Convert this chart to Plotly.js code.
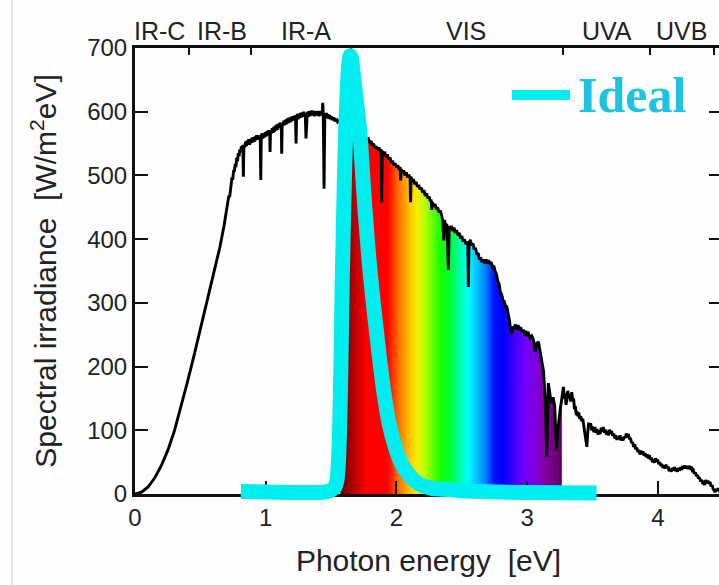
<!DOCTYPE html>
<html>
<head>
<meta charset="utf-8">
<script src="https://cdn.plot.ly/plotly-3.0.1.min.js"></script>
<style>
  html, body { margin: 0; padding: 0; background: #fdfdfd; overflow: hidden; }
  #chart { width: 725px; height: 585px; }
</style>
</head>
<body>
<div id="chart"></div>
<script>
// Solar spectral irradiance versus photon energy (eV, W/m^2 eV)
const energyEV = [
  0, 0.05, 0.10, 0.15, 0.20, 0.25, 0.30, 0.35, 0.40, 0.45,
  0.50, 0.55, 0.60, 0.65, 0.68,
  0.700, 0.706, 0.712, 0.718, 0.724, 0.730, 0.736, 0.742, 0.748, 0.754,
  0.760, 0.766, 0.772, 0.778, 0.784, 0.790, 0.796, 0.802, 0.808, 0.814,
  0.820, 0.825, 0.829, 0.833, 0.840, 0.846, 0.852, 0.858, 0.864, 0.870,
  0.876, 0.882, 0.888, 0.894, 0.900, 0.906, 0.912, 0.918, 0.924, 0.930,
  0.936, 0.942, 0.948, 0.954, 0.958, 0.962, 0.966, 0.972, 0.978, 0.984,
  0.990, 0.996, 1.002, 1.008, 1.014, 1.020, 1.026, 1.030, 1.033, 1.037,
  1.044, 1.050, 1.056, 1.062, 1.068, 1.074, 1.080, 1.086, 1.092, 1.098,
  1.104, 1.110, 1.116, 1.119, 1.122, 1.126, 1.132, 1.138, 1.144, 1.150,
  1.156, 1.162, 1.168, 1.174, 1.180, 1.186, 1.192, 1.198, 1.204, 1.210,
  1.216, 1.222, 1.228, 1.232, 1.236, 1.242, 1.248, 1.254, 1.260, 1.266,
  1.272, 1.278, 1.284, 1.290, 1.296, 1.302, 1.308, 1.312, 1.318, 1.324,
  1.330, 1.336, 1.342, 1.348, 1.354, 1.360, 1.366, 1.372, 1.378, 1.384,
  1.390, 1.396, 1.402, 1.408, 1.414, 1.420, 1.426, 1.432, 1.436, 1.440,
  1.446, 1.452, 1.458, 1.464, 1.470, 1.476, 1.482, 1.488, 1.494, 1.500,
  1.510, 1.520, 1.530, 1.540, 1.550, 1.560, 1.570, 1.59, 1.61, 1.63,
  1.65, 1.67, 1.69, 1.71, 1.73, 1.75, 1.77, 1.785, 1.795, 1.805,
  1.815, 1.825, 1.835, 1.845, 1.855, 1.865, 1.875, 1.883, 1.887, 1.891,
  1.90, 1.91, 1.92, 1.93, 1.94, 1.951, 1.96, 1.97, 1.98, 1.99,
  2.0, 2.01, 2.02, 2.028, 2.032, 2.036, 2.045, 2.055, 2.065, 2.075,
  2.085, 2.095, 2.104, 2.108, 2.112, 2.12, 2.13, 2.14, 2.15, 2.16,
  2.17, 2.18, 2.19, 2.20, 2.21, 2.22, 2.23, 2.24, 2.25, 2.257,
  2.265, 2.27, 2.275, 2.285, 2.295, 2.305, 2.315, 2.325, 2.334, 2.345,
  2.355, 2.362, 2.368, 2.375, 2.385, 2.397, 2.404, 2.412, 2.42, 2.43,
  2.44, 2.45, 2.46, 2.47, 2.48, 2.49, 2.5, 2.51, 2.52, 2.53,
  2.538, 2.546, 2.55, 2.555, 2.565, 2.575, 2.585, 2.595, 2.605, 2.615,
  2.625, 2.635, 2.645, 2.655, 2.665, 2.675, 2.685, 2.695, 2.705, 2.716,
  2.725, 2.735, 2.745, 2.754, 2.765, 2.775, 2.785, 2.793, 2.805, 2.815,
  2.825, 2.835, 2.844, 2.855, 2.865, 2.872, 2.882, 2.892, 2.9, 2.91,
  2.92, 2.93, 2.94, 2.95, 2.96, 2.97, 2.98, 2.99, 3.0, 3.01,
  3.022, 3.035, 3.048, 3.055, 3.06, 3.072, 3.086, 3.095, 3.105, 3.115,
  3.124, 3.131, 3.137, 3.145, 3.15, 3.156, 3.162, 3.175, 3.188, 3.198,
  3.21, 3.218, 3.226, 3.234, 3.244, 3.252, 3.265, 3.272, 3.277, 3.284,
  3.29, 3.297, 3.303, 3.31, 3.318, 3.325, 3.333, 3.341, 3.348, 3.355,
  3.362, 3.368, 3.375, 3.38, 3.387, 3.395, 3.40, 3.41, 3.418, 3.425,
  3.432, 3.44, 3.449, 3.456, 3.463, 3.47, 3.477, 3.485, 3.493, 3.50,
  3.51, 3.518, 3.526, 3.534, 3.542, 3.55, 3.558, 3.566, 3.574, 3.582,
  3.59, 3.598, 3.606, 3.614, 3.622, 3.63, 3.638, 3.646, 3.654, 3.662,
  3.67, 3.678, 3.686, 3.694, 3.702, 3.71, 3.718, 3.726, 3.734, 3.742,
  3.75, 3.758, 3.766, 3.774, 3.782, 3.79, 3.798, 3.806, 3.814, 3.822,
  3.83, 3.838, 3.846, 3.854, 3.862, 3.87, 3.878, 3.886, 3.894, 3.902,
  3.91, 3.918, 3.926, 3.934, 3.942, 3.95, 3.958, 3.966, 3.974, 3.982,
  3.99, 3.998, 4.006, 4.014, 4.022, 4.03, 4.038, 4.046, 4.054, 4.062,
  4.07, 4.078, 4.086, 4.094, 4.102, 4.11, 4.118, 4.126, 4.134, 4.142,
  4.15, 4.158, 4.166, 4.174, 4.182, 4.19, 4.198, 4.206, 4.214, 4.222,
  4.23, 4.238, 4.246, 4.254, 4.262, 4.27, 4.278, 4.286, 4.294, 4.302,
  4.31, 4.318, 4.326, 4.334, 4.342, 4.35, 4.358, 4.366, 4.374, 4.382,
  4.39, 4.398, 4.406, 4.414, 4.422, 4.43, 4.438, 4.446, 4.454, 4.462,
  4.47, 4.48, 4.49
];
const irradiance = [
  0, 3, 11, 25, 44, 68, 98, 135, 175, 216,
  258, 300, 343, 388, 420,
  443, 452, 455, 468, 466, 480, 484, 497, 493, 508,
  506, 518, 513, 528, 522, 535, 530, 541, 536, 546,
  540, 548, 498, 547, 544, 553, 546, 555, 549, 557,
  548, 556, 551, 559, 552, 560, 553, 561, 555, 563,
  556, 562, 558, 563, 559, 493, 561, 566, 558, 565,
  560, 568, 561, 569, 563, 571, 564, 570, 537, 571,
  566, 574, 567, 576, 569, 578, 571, 580, 572, 581,
  575, 583, 576, 581, 534, 582, 578, 586, 579, 587,
  580, 589, 582, 590, 583, 591, 584, 592, 586, 593,
  587, 594, 588, 550, 592, 596, 588, 597, 590, 598,
  591, 599, 592, 600, 592, 598, 558, 597, 600, 592,
  601, 593, 601, 594, 602, 594, 601, 593, 600, 594,
  601, 595, 600, 593, 601, 594, 600, 595, 614, 597,
  479, 598, 592, 598, 590, 596, 589, 595, 588, 593,
  587, 591, 585, 589, 584, 586, 583, 580, 577, 574,
  572, 569, 566, 564, 561, 560, 557, 558, 551, 554,
  547, 550, 543, 546, 540, 544, 538, 541, 458, 538,
  534, 537, 529, 533, 525, 528, 520, 523, 516, 519,
  513, 516, 509, 513, 492, 510, 504, 508, 500, 505,
  497, 501, 496, 458, 498, 491, 494, 486, 490, 482,
  485, 478, 481, 473, 477, 468, 472, 464, 467, 460,
  462, 446, 458, 452, 455, 447, 450, 442, 445, 438,
  428, 398, 430, 420, 424, 352, 421, 415, 421, 413,
  418, 410, 414, 406, 410, 401, 405, 396, 400, 392,
  396, 390, 325, 394, 399, 390, 393, 384, 386, 376,
  378, 368, 371, 364, 368, 362, 368, 362, 367, 361,
  364, 356, 358, 350, 345, 334, 330, 318, 313, 304,
  302, 294, 294, 282, 272, 258, 252, 263, 260, 266,
  258, 265, 257, 262, 254, 258, 249, 256, 250, 252,
  245, 248, 242, 232, 223, 236, 239, 228, 216, 206,
  194, 172, 153, 96, 58, 120, 174, 155, 142, 152,
  138, 100, 69, 100, 122, 132, 150, 165, 168, 150,
  158, 140, 147, 162, 150, 157, 145, 160, 146, 150,
  133, 138, 124, 130, 122, 128, 118, 122, 114, 118,
  108, 100, 86, 74, 96, 112, 104, 111, 100, 106,
  97, 105, 96, 102, 93, 100, 94, 104, 98, 105,
  96, 101, 93, 99, 92, 101, 95, 99, 91, 95,
  87, 92, 85, 90, 86, 92, 84, 89, 84, 90,
  88, 95, 89, 94, 86, 88, 80, 82, 74, 78,
  70, 73, 66, 69, 62, 68, 63, 67, 60, 64,
  58, 62, 56, 61, 54, 57, 50, 54, 49, 56,
  51, 54, 47, 50, 44, 47, 41, 45, 40, 46,
  41, 43, 36, 39, 35, 41, 37, 42, 36, 40,
  35, 41, 37, 42, 38, 44, 40, 45, 40, 44,
  39, 44, 41, 43, 37, 38, 32, 34, 28, 30,
  24, 26, 20, 22, 16, 18, 14, 22, 17, 21,
  16, 19, 12, 14, 8, 6, 3, 8, 5, 9,
  5, 7, 4
];

// "Ideal" emitter spectrum (same units)
const idealEV = [
  0.81, 1.0, 1.2, 1.4, 1.46, 1.50, 1.53, 1.545, 1.555, 1.565, 1.575, 1.585, 1.595, 1.605, 1.615,
  1.625, 1.635, 1.645, 1.655, 1.665, 1.68, 1.70, 1.72, 1.74, 1.76, 1.78, 1.80, 1.82, 1.85, 1.875,
  1.90, 1.925, 1.95, 1.975, 2.0, 2.03, 2.06, 2.10, 2.15, 2.20, 2.25, 2.30, 2.40, 2.50, 2.70,
  3.00, 3.53
];
const idealVal = [
  4, 3, 2.5, 2.5, 3.5, 6, 11, 22, 45, 100, 200, 330, 430, 520, 590,
  640, 675, 688, 684, 668, 640, 605, 568, 505, 445, 392, 345, 305, 250, 205,
  165, 132, 105, 85, 68, 52, 40, 29, 19, 13, 10, 8, 7, 5, 3.5,
  2.5, 1.5
];

// Axis ticks and the spectral bands labelled along the top edge
const xTicks = [0, 1, 2, 3, 4];
const yTicks = [0, 100, 200, 300, 400, 500, 600, 700];
const bandNames = ['IR-C', 'IR-B', 'IR-A', 'VIS', 'UVA', 'UVB'];
const bandLabelEV = [0.19, 0.665, 1.31, 2.53, 3.61, 4.18];
const bandEdgeEV = [0.413, 0.886, 1.653, 3.27, 3.94, 4.43];

// Rainbow under the visible part of the spectrum
const VIS_START = 1.57, VIS_END = 3.265;
const rainbowStops = [
  [1.57, '#680000'], [1.63, '#960000'], [1.70, '#c80000'], [1.75, '#f00000'],
  [1.78, '#ff0000'], [1.93, '#ff0000'], [1.97, '#ff3000'], [2.01, '#ff6800'],
  [2.06, '#ff9c00'], [2.11, '#ffcc00'], [2.16, '#f4f000'], [2.22, '#b4ff00'],
  [2.28, '#60ff00'], [2.34, '#10ff00'], [2.42, '#00ff40'], [2.50, '#00ffc0'],
  [2.55, '#00ffff'], [2.60, '#00d0ff'], [2.68, '#0080ff'], [2.75, '#0010ff'],
  [2.82, '#0000ff'], [2.90, '#4000ff'], [2.98, '#7000ff'], [3.06, '#8000e0'],
  [3.15, '#800098'], [3.265, '#600060']
];

const FONT = '"Liberation Sans", Arial, Helvetica, sans-serif';
const INK = '#222222';
const AXIS = '#111111';
const CYAN = '#00eef0';

const X_RANGE = [0, 4.49];
const Y_RANGE = [0, 700];
// plot area: 48px to 505px from the top; y = 0 sits 11px above its bottom
const Y_DOMAIN_LOW = 11 / 457;
const Y3_RANGE = [-11 * 700 / 446, 700];

const visX = [], visY = [];
energyEV.forEach((e, i) => {
  if (e >= VIS_START && e <= VIS_END) { visX.push(e); visY.push(irradiance[i]); }
});
const span = VIS_END - VIS_START;
const rainbowScale = rainbowStops.map(([e, c]) => [Math.min(1, Math.max(0, (e - VIS_START) / span)), c]);

const traces = [
  {
    type: 'scatter', mode: 'lines', x: visX, y: visY,
    xaxis: 'x', yaxis: 'y',
    line: { width: 0, color: 'rgba(0,0,0,0)' },
    fill: 'tozeroy',
    fillgradient: { type: 'horizontal', start: VIS_START, stop: VIS_END, colorscale: rainbowScale },
    hoverinfo: 'skip', showlegend: false
  },
  {
    type: 'scatter', mode: 'lines', x: energyEV, y: irradiance,
    xaxis: 'x2', yaxis: 'y',
    line: { width: 2.9, color: '#000000' },
    hoverinfo: 'x+y', showlegend: false, name: 'AM1.5'
  },
  {
    type: 'scatter', mode: 'lines', x: idealEV, y: idealVal,
    xaxis: 'x3', yaxis: 'y3',
    line: { width: 15, color: CYAN, shape: 'spline', smoothing: 0.7 },
    hoverinfo: 'x+y', showlegend: false, name: 'Ideal'
  }
];

const tickFont = { family: FONT, size: 24, color: INK };

const layout = {
  width: 725, height: 585,
  margin: { l: 135, r: 3, t: 48, b: 80 },
  paper_bgcolor: '#fdfdfd', plot_bgcolor: 'rgba(0,0,0,0)',
  showlegend: false,
  xaxis: {
    domain: [0, 1], range: X_RANGE, anchor: 'y',
    tickvals: xTicks, ticktext: xTicks.map(String),
    ticks: 'inside', ticklen: 13, tickwidth: 2, tickcolor: AXIS,
    showline: true, linewidth: 3, linecolor: AXIS, mirror: false,
    showgrid: false, zeroline: false, tickfont: tickFont,
    automargin: false,
    title: { text: 'Photon energy  [eV]', font: { family: FONT, size: 30, color: INK }, standoff: 21 }
  },
  xaxis2: {
    overlaying: 'x', side: 'top', anchor: 'y', range: X_RANGE,
    tickvals: bandEdgeEV, showticklabels: false,
    ticks: 'inside', ticklen: 7, tickwidth: 2, tickcolor: AXIS,
    showline: true, linewidth: 3, linecolor: AXIS,
    showgrid: false, zeroline: false, automargin: false
  },
  yaxis: {
    domain: [Y_DOMAIN_LOW, 1], range: Y_RANGE, anchor: 'x',
    tickvals: yTicks, ticktext: yTicks.map(String),
    ticks: 'inside', ticklen: 13, tickwidth: 2, tickcolor: AXIS,
    showline: true, linewidth: 3, linecolor: AXIS, mirror: 'ticks',
    showgrid: false, zeroline: false, tickfont: tickFont,
    automargin: false,
    title: { text: 'Spectral irradiance  [W/m<sup>2</sup>eV]', font: { family: FONT, size: 30, color: INK }, standoff: 22 }
  },
  xaxis3: { domain: [0, 1], range: X_RANGE, anchor: 'y3', visible: false, fixedrange: true },
  yaxis3: { domain: [0, 1], range: Y3_RANGE, anchor: 'x3', visible: false, fixedrange: true },
  shapes: [
    { type: 'line', xref: 'paper', yref: 'paper', x0: -0.2095, x1: -0.2095, y0: -0.3, y1: 1.3,
      line: { color: '#e4e4e4', width: 2 } },
    { type: 'line', xref: 'paper', yref: 'paper', x0: 0.6422, x1: 0.7411, y0: 0.8972, y1: 0.8972,
      line: { color: CYAN, width: 10 } }
  ],
  annotations: bandNames.map((name, i) => ({
    text: name, xref: 'x', yref: 'paper', x: bandLabelEV[i], y: 1.0372,
    xanchor: 'center', yanchor: 'middle', showarrow: false,
    font: { family: FONT, size: 25, color: INK }
  })).concat([{
    text: '<b>Ideal</b>', xref: 'paper', yref: 'paper', x: 0.751, y: 0.8972,
    xanchor: 'left', yanchor: 'middle', showarrow: false,
    font: { family: '"Liberation Serif", "Times New Roman", serif', size: 50, color: '#1ec4df' }
  }])
};

Plotly.newPlot('chart', traces, layout, { staticPlot: true, displayModeBar: false });
</script>
</body>
</html>
